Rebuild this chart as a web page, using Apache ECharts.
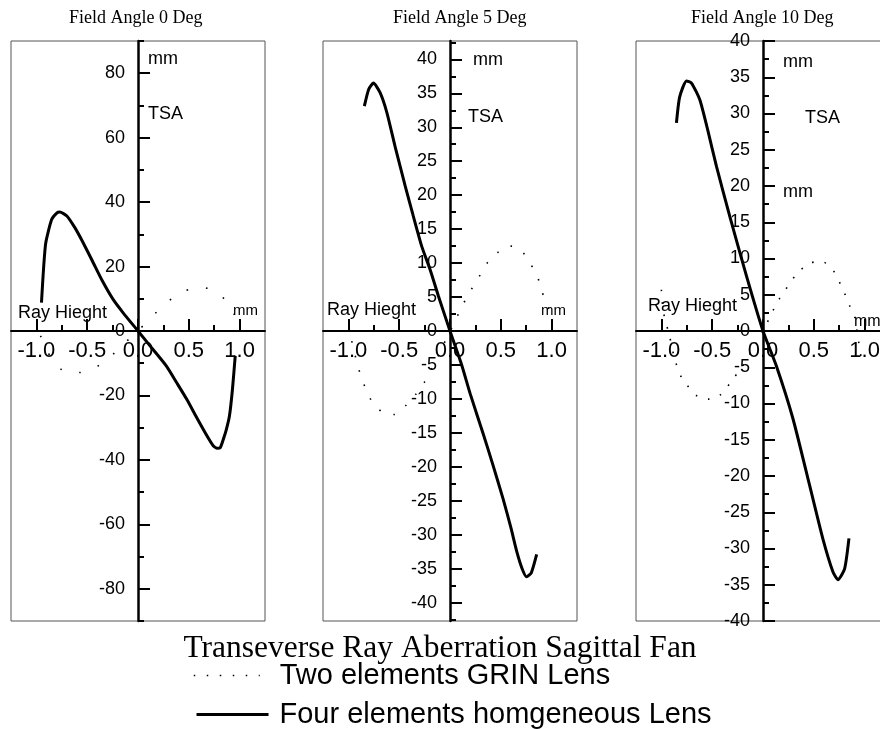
<!DOCTYPE html>
<html><head><meta charset="utf-8">
<script src="https://cdn.jsdelivr.net/npm/echarts@6/dist/echarts.min.js"></script>
<style>html,body{margin:0;padding:0;background:#fff}#c{width:880px;height:729px}</style>
</head><body><div id="c"></div>
<script>
// ---- text ----
const panelTitles = ['Field Angle 0 Deg', 'Field Angle 5 Deg', 'Field Angle 10 Deg'];
const mainTitle = 'Transeverse Ray Aberration Sagittal Fan';
const seriesNames = ['Two elements GRIN Lens', 'Four elements homgeneous Lens'];

// ---- axes / ticks ----
const xRange = [-1.25, 1.25];
const xMajorTicks = [-1, -0.5, 0, 0.5, 1];
const xMinorTicks = [-0.75, -0.25, 0.25, 0.75];

const yRange0 = [-90, 90];
const yMajor0 = [-80, -60, -40, -20, 0, 20, 40, 60, 80];
const yMinor0 = [-90, -70, -50, -30, -10, 10, 30, 50, 70, 90];

const yRange5 = [-42.7, 42.7];
const yMajor5 = [-40, -35, -30, -25, -20, -15, -10, -5, 0, 5, 10, 15, 20, 25, 30, 35, 40];
const yMinor5 = [-42.5, -37.5, -32.5, -27.5, -22.5, -17.5, -12.5, -7.5, -2.5, 2.5, 7.5, 12.5, 17.5, 22.5, 27.5, 32.5, 37.5, 42.5];

const yRange10 = [-40, 40];
const yMajor10 = [-40, -35, -30, -25, -20, -15, -10, -5, 0, 5, 10, 15, 20, 25, 30, 35, 40];
const yMinor10 = [-37.5, -32.5, -27.5, -22.5, -17.5, -12.5, -7.5, -2.5, 2.5, 7.5, 12.5, 17.5, 22.5, 27.5, 32.5, 37.5];

// ---- data: Field Angle 0 Deg ----
const grin0X = [-0.96, -0.91, -0.836, -0.75, -0.66, -0.575, -0.487, -0.40, -0.316, -0.23, -0.145, -0.07, 0, 0.09, 0.184, 0.27, 0.355, 0.44, 0.53, 0.615, 0.70, 0.785, 0.87, 0.95];
const grin0Y = [-1.5, -4.6, -9.8, -12, -12.9, -12.9, -12.2, -11, -9, -6.8, -4.1, -2, 0, 3, 5.9, 8.5, 10.5, 12.2, 13.1, 13.5, 13.1, 11.7, 9.2, 5];
const four0X = [-0.95, -0.91, -0.85, -0.80, -0.77, -0.70, -0.62, -0.55, -0.45, -0.35, -0.245, -0.15, 0, 0.15, 0.28, 0.38, 0.48, 0.58, 0.68, 0.74, 0.78, 0.81, 0.84, 0.87, 0.90, 0.93, 0.957];
const four0Y = [8.8, 26.9, 34.6, 36.6, 36.9, 35.7, 32, 28, 21.8, 15.5, 9.8, 5.8, 0, -5.8, -10.9, -16, -21.2, -27, -32.6, -35.6, -36.4, -36.2, -33.6, -30.5, -26.4, -18, -7.7];

// ---- data: Field Angle 5 Deg ----
const grin5X = [-0.967, -0.91, -0.875, -0.83, -0.77, -0.67, -0.55, -0.43, -0.33, -0.25, -0.15, -0.07, 0, 0.05, 0.092, 0.164, 0.229, 0.295, 0.37, 0.482, 0.60, 0.72, 0.80, 0.86, 0.895, 0.976];
const grin5Y = [-1.5, -5, -6.7, -8.5, -10.3, -11.9, -12.3, -10.9, -9.2, -7.5, -4.7, -2.2, 0, 1.2, 2.9, 4.9, 6.6, 8.2, 10.1, 11.7, 12.5, 11.5, 9.7, 8.1, 6.2, 3.2];
const four5X = [-0.843, -0.80, -0.754, -0.688, -0.622, -0.541, -0.442, -0.361, -0.279, -0.197, -0.115, 0, 0.115, 0.20, 0.328, 0.42, 0.524, 0.60, 0.656, 0.71, 0.754, 0.80, 0.853];
const four5Y = [33.1, 35.6, 36.5, 35.1, 32.2, 27.2, 21.4, 16.9, 12.5, 9.1, 5.2, 0, -5.0, -9.3, -15.2, -19.6, -24.8, -29, -32.4, -35, -36.2, -35.6, -32.9];

// ---- data: Field Angle 10 Deg ----
const grin10X = [-1.0, -0.98, -0.92, -0.87, -0.80, -0.74, -0.655, -0.53, -0.41, -0.31, -0.2, -0.1, 0, 0.105, 0.164, 0.246, 0.328, 0.452, 0.574, 0.688, 0.754, 0.803, 0.852, 0.90, 0.93, 0.977];
const grin10Y = [5.7, 2.6, -0.7, -3.8, -6.5, -7.6, -8.9, -9.4, -8.7, -6.9, -4.8, -2.5, 0, 3.0, 4.5, 6.2, 7.8, 9.3, 9.6, 8.4, 6.7, 5.2, 3.5, 2.1, -0.5, -4.6];
const four10X = [-0.852, -0.82, -0.753, -0.704, -0.622, -0.54, -0.458, -0.327, -0.163, 0, 0.131, 0.295, 0.459, 0.59, 0.688, 0.737, 0.803, 0.846];
const four10Y = [28.7, 32.3, 34.5, 34.2, 31.9, 27.5, 22.7, 15.8, 7.6, 0, -4.8, -12.1, -21.3, -28.7, -33.2, -34.3, -32.8, -28.6];

// ---- build ----
const SANS = 'Liberation Sans';
const SERIF = 'Liberation Serif';
const zip = (xs, ys) => xs.map((x, i) => [x, ys[i]]);

const GRID_TOP = 41, GRID_W = 254, GRID_H = 580;
const panels = [
  { left: 11, titleLeft: 69, yRange: yRange0, yMajor: yMajor0, yMinor: yMinor0,
    grin: zip(grin0X, grin0Y), four: zip(four0X, four0Y), dash: [1.6, 18] },
  { left: 323, titleLeft: 393, yRange: yRange5, yMajor: yMajor5, yMinor: yMinor5,
    grin: zip(grin5X, grin5Y), four: zip(four5X, four5Y), dash: [1.6, 13.4] },
  { left: 636, titleLeft: 691, yRange: yRange10, yMajor: yMajor10, yMinor: yMinor10,
    grin: zip(grin10X, grin10Y), four: zip(four10X, four10Y), dash: [1.6, 11] }
];
// axes cross at the centre of each (symmetric) box
const X_SHIFT = -GRID_W / 2;
const Y_SHIFT = -GRID_H / 2;

const grid = [], xAxis = [], yAxis = [], series = [], title = [];
panels.forEach((p, i) => {
  grid.push({ left: p.left, top: GRID_TOP, width: GRID_W, height: GRID_H, show: true,
    borderColor: '#555', borderWidth: 1, backgroundColor: 'transparent', outerBoundsMode: 'none', containLabel: false });
  const xa = 2 * i, ya = 2 * i;
  xAxis.push({ gridIndex: i, type: 'value', min: xRange[0], max: xRange[1], position: 'bottom', offset: Y_SHIFT,
    axisLine: { show: true, onZero: false, lineStyle: { color: '#000', width: 2 } },
    axisTick: { show: true, inside: true, length: 12, customValues: xMajorTicks, lineStyle: { color: '#000', width: 2 } },
    axisLabel: { show: true, customValues: xMajorTicks, formatter: v => Number(v).toFixed(1), fontSize: 22, fontFamily: SANS, color: '#000', margin: 9 },
    splitLine: { show: false }, minorTick: { show: false } });
  xAxis.push({ gridIndex: i, type: 'value', min: xRange[0], max: xRange[1], position: 'top', offset: Y_SHIFT,
    axisLine: { show: false, onZero: false },
    axisTick: { show: true, inside: false, length: 6, customValues: xMinorTicks, lineStyle: { color: '#000', width: 2 } },
    axisLabel: { show: false }, splitLine: { show: false } });
  yAxis.push({ gridIndex: i, type: 'value', min: p.yRange[0], max: p.yRange[1], position: 'left', offset: X_SHIFT,
    axisLine: { show: true, onZero: false, lineStyle: { color: '#000', width: 2.5 } },
    axisTick: { show: true, inside: true, length: 12, customValues: p.yMajor, lineStyle: { color: '#000', width: 2 } },
    axisLabel: { show: true, customValues: p.yMajor, fontSize: 18, fontFamily: SANS, color: '#000', margin: 13 },
    splitLine: { show: false }, minorTick: { show: false } });
  yAxis.push({ gridIndex: i, type: 'value', min: p.yRange[0], max: p.yRange[1], position: 'right', offset: X_SHIFT,
    axisLine: { show: false, onZero: false },
    axisTick: { show: true, inside: false, length: 6, customValues: p.yMinor, lineStyle: { color: '#000', width: 2 } },
    axisLabel: { show: false }, splitLine: { show: false } });

  series.push({ name: seriesNames[0], type: 'line', xAxisIndex: xa, yAxisIndex: ya, data: p.grin,
    symbol: 'none', smooth: 0.3, lineStyle: { color: '#000', width: 1.6, type: p.dash }, itemStyle: { color: '#000' }, z: 3 });
  series.push({ name: seriesNames[1], type: 'line', xAxisIndex: xa, yAxisIndex: ya, data: p.four,
    symbol: 'none', smooth: 0.2, lineStyle: { color: '#000', width: 3 }, itemStyle: { color: '#000' }, z: 4 });

  title.push({ text: panelTitles[i], left: p.titleLeft, top: 9, padding: 0,
    textStyle: { fontFamily: SERIF, fontSize: 18, fontWeight: 'normal', color: '#000' } });
});
title.push({ text: mainTitle, left: 'center', top: 633, padding: 0,
  textStyle: { fontFamily: SERIF, fontSize: 31.5, fontWeight: 'normal', color: '#000' } });

// in-plot annotation labels
const notes = [
  ['mm', 148, 59, 18], ['TSA', 148, 114, 18], ['Ray Hieght', 18, 313, 18], ['mm', 233, 311, 15],
  ['mm', 473, 60, 18], ['TSA', 468, 117, 18], ['Ray Hieght', 327, 310, 18], ['mm', 541, 311, 15],
  ['mm', 783, 62, 18], ['TSA', 805, 118, 18], ['mm', 783, 192, 18], ['Ray Hieght', 648, 306, 18], ['mm', 854, 322, 16]
];
const graphic = notes.map(n => ({ type: 'text', x: n[1], y: n[2], z: 10,
  style: { text: n[0], font: n[3] + 'px "' + SANS + '"', fill: '#000', verticalAlign: 'middle', align: 'left' } }));

const legendCommon = { orient: 'vertical', itemHeight: 14, padding: 0, selectedMode: false,
  itemStyle: { opacity: 0 } };
const legend = [
  Object.assign({}, legendCommon, { left: 193, top: 661, itemWidth: 66,
    textStyle: { fontSize: 29, fontFamily: SANS, color: '#000', padding: [0, 0, 0, 15] },
    data: [{ name: seriesNames[0], lineStyle: { type: [1.5, 11.5], width: 1.5, color: '#000' }, itemStyle: { opacity: 0 } }] }),
  Object.assign({}, legendCommon, { left: 195, top: 700, itemWidth: 72,
    textStyle: { fontSize: 29, fontFamily: SANS, color: '#000', padding: [0, 0, 0, 6] },
    data: [{ name: seriesNames[1], lineStyle: { width: 3, color: '#000', type: 'solid' }, itemStyle: { opacity: 0 } }] })
];

const option = {
  backgroundColor: '#fff',
  animation: false,
  title, grid, xAxis, yAxis, series, graphic, legend
};
const chart = echarts.init(document.getElementById('c'), null, { renderer: 'canvas' });
chart.setOption(option);
</script></body></html>
